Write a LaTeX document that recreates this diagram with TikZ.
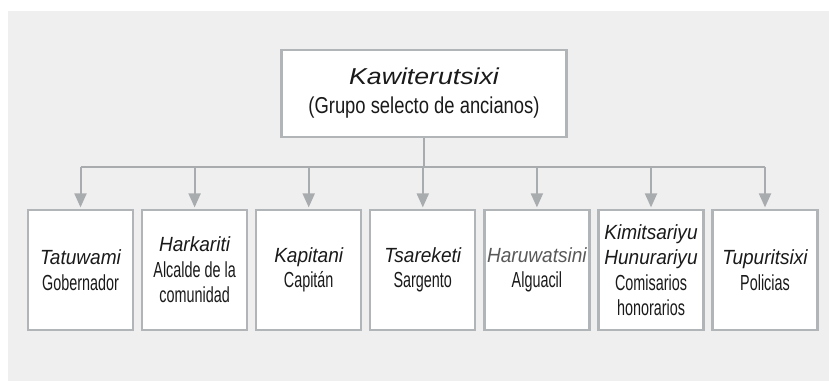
\documentclass[tikz,border=0pt]{standalone}
\usepackage{fontspec}
\setmainfont{Liberation Sans}
\newfontfamily\kwreg{Liberation Sans}[FakeStretch=0.66]
\newfontfamily\kwit{Liberation Sans}[FakeStretch=0.93]
\newfontfamily\kwtopreg{Liberation Sans}[FakeStretch=0.80]
\newfontfamily\kwtopit{Liberation Sans}[FakeStretch=1.16]
\usetikzlibrary{arrows.meta}
\definecolor{bgcol}{HTML}{EFEFEF}
\definecolor{edgecol}{HTML}{B2B5B7}
\definecolor{linecol}{HTML}{A9ACAF}
\definecolor{txtcol}{HTML}{1A1A1A}
\newcommand\kwname[1]{{\kwit\itshape\fontsize{20.5}{25.5}\selectfont #1}}
\newcommand\kwtext[1]{{\kwreg\fontsize{21.8}{25.5}\selectfont #1}}
\tikzset{
  topbox/.style={draw=edgecol, fill=white, line width=2.2pt, minimum width=285pt, minimum height=87pt, inner sep=0pt, align=center, text=txtcol, font=\fontsize{23}{29}\selectfont},
  lowbox/.style={draw=edgecol, fill=white, line width=2.2pt, minimum width=105pt, minimum height=120pt, inner sep=0pt, align=center, text=txtcol, font=\fontsize{20.5}{25.5}\selectfont},
  conn/.style={draw=linecol, line width=2pt},
  arr/.style={conn, -{Triangle[width=12pt,length=14pt]}, shorten >=1.5pt}
}
\begin{document}
\begin{tikzpicture}[x=1pt, y=-1pt]
\useasboundingbox (0,0) rectangle (829,381);
\fill[bgcol] (8,11) rectangle (829,381);
\node[topbox] (top) at (424,93.5) {{\kwtopit\itshape Kawiterutsixi}\\ {\kwtopreg (Grupo selecto de ancianos)}};
\coordinate (bus) at (424,167);
\node[lowbox] (b1) at (80.5,270) {\kwname{Tatuwami}\\ \kwtext{Gobernador}};
\node[lowbox] (b2) at (194.6,270) {\kwname{Harkariti}\\ \kwtext{Alcalde de la}\\ \kwtext{comunidad}};
\node[lowbox] (b3) at (308.7,270) {\kwname{Kapitani}\\ \kwtext{Capitán}};
\node[lowbox] (b4) at (422.8,270) {\kwname{Tsareketi}\\ \kwtext{Sargento}};
\node[lowbox] (b5) at (536.9,270) {{\color{black!65}\kwname{Haruwatsini}}\\ \kwtext{Alguacil}};
\node[lowbox] (b6) at (651,270) {\kwname{Kimitsariyu}\\ \kwname{Hunurariyu}\\ \kwtext{Comisarios}\\ \kwtext{honorarios}};
\node[lowbox] (b7) at (765,270) {\kwname{Tupuritsixi}\\ \kwtext{Policias}};
\draw[conn] (top.south) -- (bus);
\draw[conn] (b1.north |- bus) -- (b7.north |- bus);
\foreach \b in {b1,b2,b3,b4,b5,b6,b7}{
  \draw[arr] (\b.north |- bus) -- (\b.north);
}
\end{tikzpicture}
\end{document}
